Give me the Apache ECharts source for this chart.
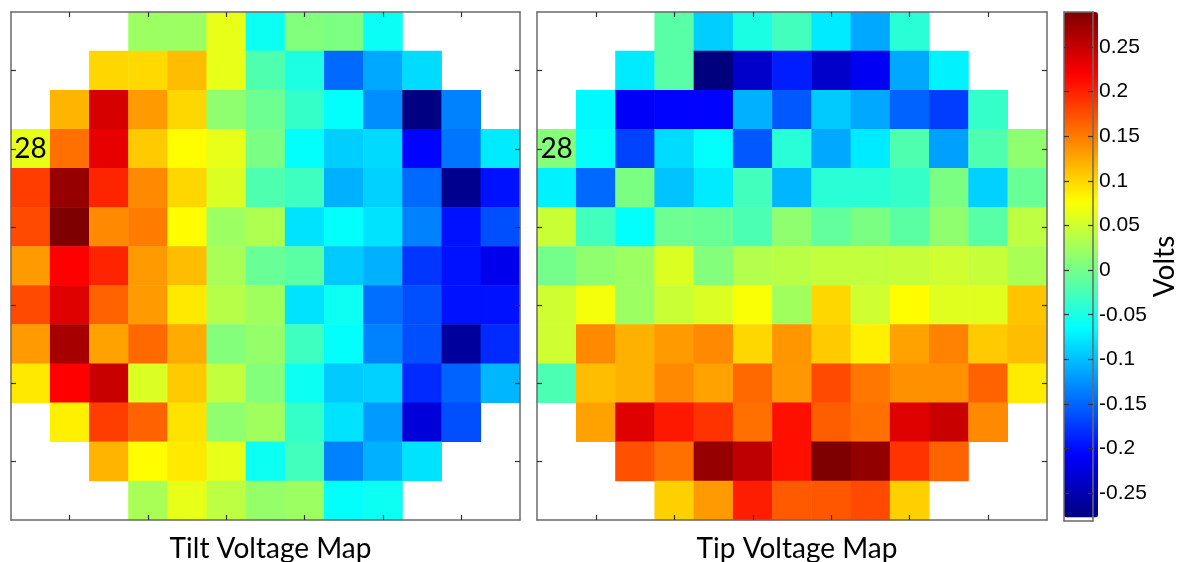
<!DOCTYPE html>
<html>
<head>
<meta charset="utf-8">
<script src="https://cdn.jsdelivr.net/npm/echarts@6/dist/echarts.min.js"></script>
<style>
  html, body { margin: 0; padding: 0; background: #fff; }
  #chart { width: 1180px; height: 562px; }
</style>
</head>
<body>
<div id="chart"></div>
<script>
// 13 x 13 actuator grid, row 0 at the top; null = outside the circular aperture
const cells = ['1','2','3','4','5','6','7','8','9','10','11','12','13'];

const tilt = [
  [null, null, null, 0.022, 0.022, 0.064, -0.058, 0.007, 0.005, -0.060, null, null, null],
  [null, null, 0.099, 0.098, 0.113, 0.064, -0.021, -0.049, -0.148, -0.113, -0.084, null, null],
  [null, 0.118, 0.241, 0.132, 0.099, 0.015, -0.004, -0.035, -0.063, -0.127, -0.275, -0.134, null],
  [0.064, 0.156, 0.231, 0.106, 0.078, 0.064, 0.003, -0.063, -0.092, -0.085, -0.204, -0.141, -0.076],
  [0.184, 0.276, 0.198, 0.142, 0.099, 0.057, -0.021, -0.030, -0.108, -0.090, -0.148, -0.268, -0.197],
  [0.177, 0.289, 0.142, 0.149, 0.078, 0.022, 0.032, -0.080, -0.063, -0.080, -0.134, -0.197, -0.162],
  [0.132, 0.219, 0.198, 0.132, 0.113, 0.029, -0.007, -0.014, -0.094, -0.108, -0.176, -0.197, -0.216],
  [0.177, 0.236, 0.163, 0.132, 0.089, 0.036, 0.025, -0.080, -0.058, -0.145, -0.162, -0.197, -0.197],
  [0.132, 0.267, 0.128, 0.160, 0.123, 0.008, 0.018, -0.030, -0.063, -0.134, -0.162, -0.261, -0.183],
  [0.089, 0.219, 0.248, 0.057, 0.106, 0.043, 0.008, -0.058, -0.094, -0.090, -0.183, -0.151, -0.105],
  [null, 0.085, 0.184, 0.163, 0.092, 0.015, 0.025, -0.035, -0.080, -0.120, -0.226, -0.162, null],
  [null, null, 0.118, 0.078, 0.089, 0.064, -0.058, -0.028, -0.134, -0.108, -0.080, null, null],
  [null, null, null, 0.029, 0.064, 0.040, 0.018, 0.022, -0.063, -0.058, null, null, null]
];

const tip = [
  [null, null, null, -0.016, -0.092, -0.050, -0.028, -0.076, -0.113, -0.042, null, null, null],
  [null, null, -0.076, -0.016, -0.277, -0.235, -0.190, -0.235, -0.213, -0.113, -0.072, null, null],
  [null, -0.068, -0.210, -0.204, -0.204, -0.108, -0.157, -0.094, -0.113, -0.151, -0.172, -0.035, null],
  [0.008, -0.063, -0.169, -0.084, -0.063, -0.157, -0.042, -0.113, -0.076, -0.021, -0.117, -0.021, 0.015],
  [-0.072, -0.148, 0.004, -0.098, -0.076, -0.028, -0.105, -0.042, -0.042, -0.035, 0.004, -0.090, -0.007],
  [0.047, -0.028, -0.063, -0.004, -0.007, -0.023, 0.015, -0.010, 0.004, -0.014, 0.015, -0.016, 0.040],
  [0.000, 0.015, 0.022, 0.057, 0.008, 0.035, 0.038, 0.043, 0.043, 0.045, 0.050, 0.045, 0.030],
  [0.050, 0.071, 0.022, 0.047, 0.057, 0.074, 0.025, 0.099, 0.050, 0.078, 0.060, 0.060, 0.110],
  [0.050, 0.142, 0.120, 0.132, 0.142, 0.099, 0.135, 0.106, 0.085, 0.128, 0.146, 0.106, 0.113],
  [-0.023, 0.113, 0.120, 0.142, 0.128, 0.160, 0.134, 0.177, 0.152, 0.138, 0.138, 0.163, 0.088],
  [null, 0.128, 0.236, 0.205, 0.190, 0.156, 0.210, 0.166, 0.156, 0.236, 0.248, 0.142, null],
  [null, null, 0.173, 0.156, 0.276, 0.255, 0.210, 0.289, 0.278, 0.190, 0.163, null, null],
  [null, null, null, 0.103, 0.132, 0.202, 0.168, 0.170, 0.177, 0.103, null, null, null]
];

// actuator number shown inside one cell of each map
const markedCell = { col: 0, row: 3, text: '28' };

const panelTitles = ['Tilt Voltage Map', 'Tip Voltage Map'];
const colorbarTicks = [-0.25, -0.2, -0.15, -0.1, -0.05, 0, 0.05, 0.1, 0.15, 0.2, 0.25];
const colorbarName = 'Volts';

// jet colour scale limits and the colorbar axis (a thin white slot sits below the jet range)
const jetMin = -0.277, jetMax = 0.289;
const barMin = -0.281, barMax = 0.289;
const jet = ['#00007f', '#0000ff', '#007fff', '#00ffff', '#7fff7f', '#ffff00', '#ff7f00', '#ff0000', '#7f0000'];

const FRAME = '#6a6a6a';
const TICK = '#333';
const TEXT_FONT = "Lato, 'Open Sans', sans-serif";

function toHeatmap(matrix) {
  const out = [];
  matrix.forEach((row, r) => row.forEach((v, c) => {
    if (v === null) return;
    const item = { value: [c, r, v] };
    if (c === markedCell.col && r === markedCell.row) {
      item.label = { show: true, formatter: markedCell.text, color: '#000', fontSize: 28, fontFamily: TEXT_FONT };
    }
    out.push(item);
  }));
  return out;
}

const oddTick = (i) => i % 2 === 1;

// frame + inward ticks on all four sides, drawn above the cells
function panelAxes(gridIndex) {
  const base = {
    type: 'category', data: cells, gridIndex, z: 10,
    axisLine: { show: true, onZero: false, lineStyle: { color: FRAME, width: 1.5 } },
    axisTick: { show: true, inside: true, length: 5, alignWithLabel: true, interval: oddTick, lineStyle: { color: TICK, width: 1.2 } },
    axisLabel: { show: false },
    splitLine: { show: false }
  };
  return {
    x: [
      Object.assign({}, base, { position: 'bottom' }),
      Object.assign({}, base, { position: 'top' })
    ],
    y: [
      Object.assign({}, base, { position: 'left', inverse: true }),
      Object.assign({}, base, { position: 'right', inverse: true })
    ]
  };
}

const a0 = panelAxes(0), a1 = panelAxes(1);

const cbAxisBase = {
  gridIndex: 2, type: 'value', min: barMin, max: barMax, z: 10,
  axisLine: { show: true, onZero: false, lineStyle: { color: FRAME, width: 1.5 } },
  splitLine: { show: false }
};
const cbTick = { show: true, inside: true, length: 5, customValues: colorbarTicks, lineStyle: { color: TICK, width: 1.2 } };

const option = {
  animation: false,
  backgroundColor: '#fff',
  title: panelTitles.map((t, i) => ({
    text: t,
    left: i === 0 ? 265.5 : 792,
    top: 530,
    textAlign: 'center',
    textStyle: { fontFamily: TEXT_FONT, fontSize: 28, fontWeight: 'normal', color: '#000' }
  })),
  grid: [
    { left: 11, top: 12, width: 509, height: 508 },
    { left: 537, top: 12, width: 510, height: 508 },
    { left: 1064, top: 12, width: 34, height: 509 }
  ],
  xAxis: [
    a0.x[0], a0.x[1], a1.x[0], a1.x[1],
    Object.assign({}, cbAxisBase, { min: 0, max: 1, position: 'bottom', axisTick: { show: false }, axisLabel: { show: false } }),
    Object.assign({}, cbAxisBase, { min: 0, max: 1, position: 'top', axisTick: { show: false }, axisLabel: { show: false } })
  ],
  yAxis: [
    a0.y[0], a0.y[1], a1.y[0], a1.y[1],
    Object.assign({}, cbAxisBase, {
      position: 'left',
      axisTick: cbTick,
      axisLabel: { show: false }
    }),
    Object.assign({}, cbAxisBase, {
      position: 'right',
      axisTick: cbTick,
      axisLabel: { show: true, customValues: colorbarTicks, margin: 6, color: '#000', fontSize: 21, fontFamily: "'Liberation Sans', Arial, sans-serif" },
      name: colorbarName,
      nameLocation: 'middle',
      nameRotate: 90,
      nameGap: 58,
      nameTextStyle: { fontFamily: TEXT_FONT, fontSize: 28, color: '#000' }
    })
  ],
  visualMap: {
    type: 'continuous',
    min: jetMin, max: jetMax,
    seriesIndex: [0, 1],
    calculable: false,
    hoverLink: false,
    orient: 'vertical',
    left: 1064, top: 12,
    itemWidth: 34, itemHeight: 505.5,
    padding: 0,
    text: null,
    inRange: { color: jet }
  },
  series: [
    {
      type: 'heatmap', xAxisIndex: 0, yAxisIndex: 0,
      data: toHeatmap(tilt),
      itemStyle: { borderWidth: 0 },
      emphasis: { disabled: true }
    },
    {
      type: 'heatmap', xAxisIndex: 2, yAxisIndex: 2,
      data: toHeatmap(tip),
      itemStyle: { borderWidth: 0 },
      emphasis: { disabled: true }
    }
  ]
};

const chart = echarts.init(document.getElementById('chart'), null, { renderer: 'canvas' });
chart.setOption(option);
</script>
</body>
</html>
